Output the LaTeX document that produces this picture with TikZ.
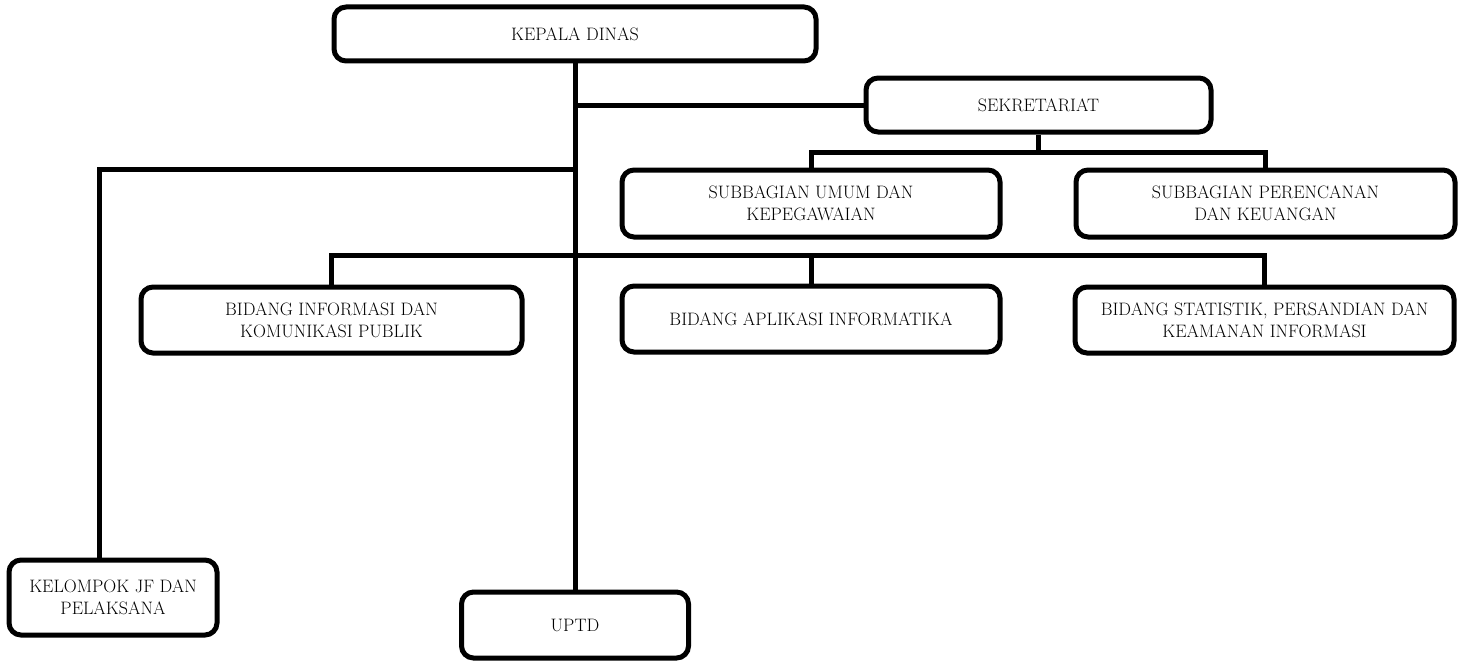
\documentclass[tikz,border=0pt]{standalone}
\usepackage{fontspec}
\begin{document}
\begin{tikzpicture}[x=1pt,y=-1pt,
  orgbox/.style={draw=black, line width=5pt, rounded corners=12pt, fill=white,
    align=center, inner sep=0pt, font=\fontsize{18}{22}\selectfont},
  link/.style={draw=black, line width=5pt, line join=miter}]
\useasboundingbox[fill=white] (0,0) rectangle (1461,661);
% nodes
\node[orgbox, minimum width=482pt, minimum height=54pt] (kepala) at (575,34) {KEPALA DINAS};
\node[orgbox, minimum width=345pt, minimum height=54pt] (sek) at (1038.5,105) {SEKRETARIAT};
\node[orgbox, minimum width=378pt, minimum height=67pt] (sub1) at (811,203.5) {SUBBAGIAN UMUM DAN\\KEPEGAWAIAN};
\node[orgbox, minimum width=379pt, minimum height=67pt] (sub2) at (1265.5,203.5) {SUBBAGIAN PERENCANAN\\DAN KEUANGAN};
\node[orgbox, minimum width=381pt, minimum height=66pt] (bid1) at (331.5,320) {BIDANG INFORMASI DAN\\KOMUNIKASI PUBLIK};
\node[orgbox, minimum width=378pt, minimum height=66pt] (bid2) at (811,319) {BIDANG APLIKASI INFORMATIKA};
\node[orgbox, minimum width=379pt, minimum height=66pt] (bid3) at (1264.5,320) {BIDANG STATISTIK, PERSANDIAN DAN\\KEAMANAN INFORMASI};
\node[orgbox, minimum width=208pt, minimum height=75pt] (kel) at (113,597.5) {KELOMPOK JF DAN\\PELAKSANA};
\node[orgbox, minimum width=227pt, minimum height=66pt] (uptd) at (575,625) {UPTD};
% junctions
\coordinate (jsek) at (575,105);
\coordinate (jkel) at (575,169);
\coordinate (bsub) at (1038.5,152);
\coordinate (bbid) at (811,255);
% connectors
\draw[link] (kepala.south) -- (uptd.north);
\draw[link] (jsek) -- (sek.west);
\draw[link] (jkel) -| ([xshift=-14pt]kel.north);
\draw[link] (sek.south) -- (bsub);
\draw[link] (sub1.north) |- (bsub) -| (sub2.north);
\draw[link] (bid1.north) |- (bbid) -| (bid3.north);
\draw[link] (bbid) -- (bid2.north);
\end{tikzpicture}
\end{document}
